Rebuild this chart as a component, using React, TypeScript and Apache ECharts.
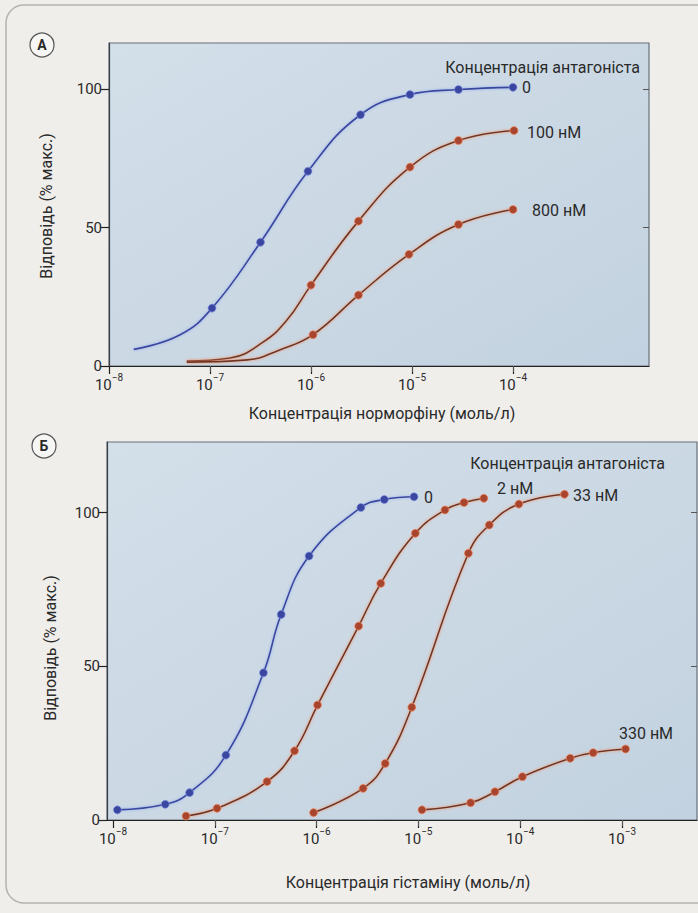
import React, { useEffect, useRef } from 'react';
import * as echarts from 'echarts';

// ---------- Data (x values are log10 of molar concentration) ----------
const decadesA = [-8, -7, -6, -5, -4];
const decadesB = [-8, -7, -6, -5, -4, -3];
const yTickValues = [0, 50, 100];

// Panel A — normorphine, antagonist 0 / 100 nM / 800 nM
const aZeroX = [-6.98, -6.5, -6.03, -5.51, -5.02, -4.54, -4.0];
const aZeroY = [20.9, 44.7, 70.3, 90.7, 98, 99.8, 100.6];
const aZeroLeadX = [-7.755, -7.3];
const aZeroLeadY = [6, 11.2];

const a100X = [-6.0, -5.53, -5.02, -4.54, -3.99];
const a100Y = [29.2, 52.3, 71.8, 81.4, 85];
const a100LeadX = [-7.23, -6.8, -6.475, -6.24];
const a100LeadY = [1.8, 2.9, 8.6, 16.5];

const a800X = [-5.98, -5.53, -5.03, -4.54, -4.0];
const a800Y = [11.3, 25.6, 40.3, 51.1, 56.5];
const a800LeadX = [-7.23, -6.63, -6.31];
const a800LeadY = [1.4, 2.2, 5.8];

// Panel B — histamine, antagonist 0 / 2 nM / 33 nM / 330 nM
const bZeroX = [-7.957, -7.487, -7.248, -6.891, -6.522, -6.348, -6.074, -5.565, -5.335, -5.043];
const bZeroY = [3.3, 5.1, 8.9, 21.1, 47.9, 66.9, 85.9, 101.7, 104.3, 105.2];

const b2X = [-7.283, -6.978, -6.487, -6.217, -5.991, -5.587, -5.37, -5.03, -4.739, -4.552, -4.357];
const b2Y = [1.3, 3.8, 12.5, 22.5, 37.4, 63.1, 77.0, 93.3, 100.9, 103.3, 104.7];

const b33X = [-6.03, -5.543, -5.326, -5.065, -4.509, -4.304, -4.013, -3.565];
const b33Y = [2.4, 10.3, 18.4, 36.7, 86.8, 96.0, 102.8, 106.0];

const b330X = [-4.965, -4.487, -4.248, -3.978, -3.509, -3.283, -2.965];
const b330Y = [3.3, 5.6, 9.2, 14.1, 20.1, 21.9, 23.1];

// ---------- Styles ----------
const FONT = "Roboto, 'Open Sans', sans-serif";
const TXT = '#2a2a2a';
const BLUE = '#3a469f';
const RED_LINE = '#6e3426';
const RED_DOT = '#a8452f';

function build(mx: number[], my: number[], lx: number[] = [], ly: number[] = []) {
  const pts: any[] = [];
  lx.forEach((x, i) => pts.push({ value: [x, ly[i]], symbol: 'none' }));
  mx.forEach((x, i) => pts.push({ value: [x, my[i]] }));
  pts.sort((p, q) => p.value[0] - q.value[0]);
  return pts;
}

function lineSeries(name: string, data: any[], blue: boolean, axisIdx: number) {
  return {
    name,
    type: 'line',
    xAxisIndex: axisIdx,
    yAxisIndex: axisIdx,
    data,
    smooth: 0.45,
    symbol: 'circle',
    symbolSize: 8,
    showAllSymbol: true,
    lineStyle: blue
      ? { color: BLUE, width: 1.6, shadowColor: 'rgba(120,150,235,0.7)', shadowBlur: 3 }
      : { color: RED_LINE, width: 1.6, shadowColor: 'rgba(245,140,90,0.95)', shadowBlur: 3 },
    itemStyle: blue
      ? { color: BLUE, borderColor: 'rgba(130,150,230,0.8)', borderWidth: 0.8 }
      : { color: RED_DOT, borderColor: 'rgba(240,140,100,0.9)', borderWidth: 0.8 },
    emphasis: { disabled: true },
    z: 3,
  };
}

const rich = {
  b: { fontSize: 15, fontFamily: FONT, color: TXT, lineHeight: 20, verticalAlign: 'bottom' },
  s: { fontSize: 10, fontFamily: FONT, color: TXT, lineHeight: 12, verticalAlign: 'top' },
};

function bottomX(gridIndex: number, min: number, max: number, ticks: number[]) {
  return {
    type: 'value',
    gridIndex,
    position: 'bottom',
    min,
    max,
    axisLine: { show: true, onZero: false, lineStyle: { color: '#222', width: 1.2 } },
    axisTick: { show: true, length: 8, customValues: ticks, lineStyle: { color: '#222', width: 1.2 } },
    axisLabel: {
      show: true,
      customValues: ticks,
      margin: 6,
      formatter: (v: number) => `{b|10}{s|−${Math.abs(Math.round(v))}}`,
      rich,
    },
    splitLine: { show: false },
  };
}

function topX(gridIndex: number, min: number, max: number, ticks: number[]) {
  return {
    type: 'value',
    gridIndex,
    position: 'top',
    min,
    max,
    axisLine: { show: false },
    axisTick: { show: true, inside: true, length: 6, customValues: ticks, lineStyle: { color: '#555', width: 1 } },
    axisLabel: { show: false },
    splitLine: { show: false },
  };
}

function leftY(gridIndex: number, max: number) {
  return {
    type: 'value',
    gridIndex,
    position: 'left',
    min: 0,
    max,
    axisLine: { show: true, lineStyle: { color: '#3a3f45', width: 1.2 } },
    axisTick: { show: true, length: 9, customValues: yTickValues, lineStyle: { color: '#222', width: 1.2 } },
    axisLabel: {
      show: true,
      customValues: yTickValues,
      margin: 7,
      color: TXT,
      fontSize: 15,
      fontFamily: FONT,
    },
    splitLine: { show: false },
  };
}

function rightY(gridIndex: number, max: number) {
  return {
    type: 'value',
    gridIndex,
    position: 'right',
    min: 0,
    max,
    axisLine: { show: false },
    axisTick: { show: true, inside: true, length: 6, customValues: [50, 100], lineStyle: { color: '#555', width: 1 } },
    axisLabel: { show: false },
    splitLine: { show: false },
  };
}

function txt(text: string, x: number, y: number, opts: any = {}) {
  return {
    type: 'text',
    x,
    y,
    rotation: opts.rotation || 0,
    z: 10,
    style: {
      text,
      fill: TXT,
      font: `${opts.weight || 'normal'} ${opts.size || 16}px ${FONT}`,
      align: opts.align || 'left',
      verticalAlign: 'middle',
    },
  };
}

export default function App() {
  const ref = useRef<HTMLDivElement>(null);

  useEffect(() => {
    document.body.style.margin = '0';
    const chart = echarts.init(ref.current!, null, { renderer: 'svg' });

    const minA = -8;
    const maxA = -8 + 540 / 101;
    const minB = -8 - 6 / 101.8;
    const maxB = minB + 590 / 101.8;

    const bg = new echarts.graphic.LinearGradient(0, 0, 1, 1, [
      { offset: 0, color: '#d3dfe9' },
      { offset: 1, color: '#c3d2e0' },
    ]);

    const gridStyle = {
      show: true,
      backgroundColor: bg,
      borderColor: '#66717c',
      borderWidth: 1.2,
    };

    chart.setOption({
      animation: false,
      backgroundColor: '#efeeeb',
      grid: [
        { left: 109, top: 43, width: 540, height: 323, ...gridStyle },
        { left: 107, top: 442, width: 590, height: 378, ...gridStyle },
      ],
      xAxis: [
        bottomX(0, minA, maxA, decadesA),
        bottomX(1, minB, maxB, decadesB),
        topX(0, minA, maxA, [-7, -6, -5, -4]),
        topX(1, minB, maxB, [-7, -6, -5, -4, -3]),
      ],
      yAxis: [
        leftY(0, 323 / 2.77),
        leftY(1, 378 / 3.073),
        rightY(0, 323 / 2.77),
        rightY(1, 378 / 3.073),
      ],
      series: [
        lineSeries('A 0', build(aZeroX, aZeroY, aZeroLeadX, aZeroLeadY), true, 0),
        lineSeries('A 100 нМ', build(a100X, a100Y, a100LeadX, a100LeadY), false, 0),
        lineSeries('A 800 нМ', build(a800X, a800Y, a800LeadX, a800LeadY), false, 0),
        lineSeries('Б 0', build(bZeroX, bZeroY), true, 1),
        lineSeries('Б 2 нМ', build(b2X, b2Y), false, 1),
        lineSeries('Б 33 нМ', build(b33X, b33Y), false, 1),
        lineSeries('Б 330 нМ', build(b330X, b330Y), false, 1),
      ],
      graphic: [
        {
          type: 'rect',
          z: 0,
          shape: { x: 6, y: 5, width: 760, height: 898, r: 18 },
          style: { fill: 'none', stroke: '#b3b3b3', lineWidth: 1.5 },
        },
        { type: 'circle', z: 10, shape: { cx: 42, cy: 45, r: 12 }, style: { fill: '#f6f6f4', stroke: '#555', lineWidth: 1.2 } },
        txt('А', 42, 45, { align: 'center', size: 14, weight: 'bold' }),
        { type: 'circle', z: 10, shape: { cx: 44, cy: 446, r: 12 }, style: { fill: '#f6f6f4', stroke: '#555', lineWidth: 1.2 } },
        txt('Б', 44, 446, { align: 'center', size: 14, weight: 'bold' }),

        // Panel A texts
        txt('Концентрація антагоніста', 640, 67, { align: 'right', size: 16 }),
        txt('0', 522, 87, { size: 16 }),
        txt('100 нМ', 527, 132, { size: 16 }),
        txt('800 нМ', 532, 210, { size: 16 }),
        txt('Концентрація норморфіну (моль/л)', 382, 413, { align: 'center', size: 16 }),
        txt('Відповідь (% макс.)', 46, 206, { align: 'center', size: 16, rotation: Math.PI / 2 }),

        // Panel B texts
        txt('Концентрація антагоніста', 665, 463, { align: 'right', size: 16 }),
        txt('0', 424, 497, { size: 16 }),
        txt('2 нМ', 497, 488, { size: 16 }),
        txt('33 нМ', 573, 495, { size: 16 }),
        txt('330 нМ', 646, 733, { align: 'center', size: 16 }),
        txt('Концентрація гістаміну (моль/л)', 408, 882, { align: 'center', size: 16 }),
        txt('Відповідь (% макс.)', 50, 648, { align: 'center', size: 16, rotation: Math.PI / 2 }),
      ],
    });

    return () => chart.dispose();
  }, []);

  return <div ref={ref} style={{ width: 698, height: 913 }} />;
}
